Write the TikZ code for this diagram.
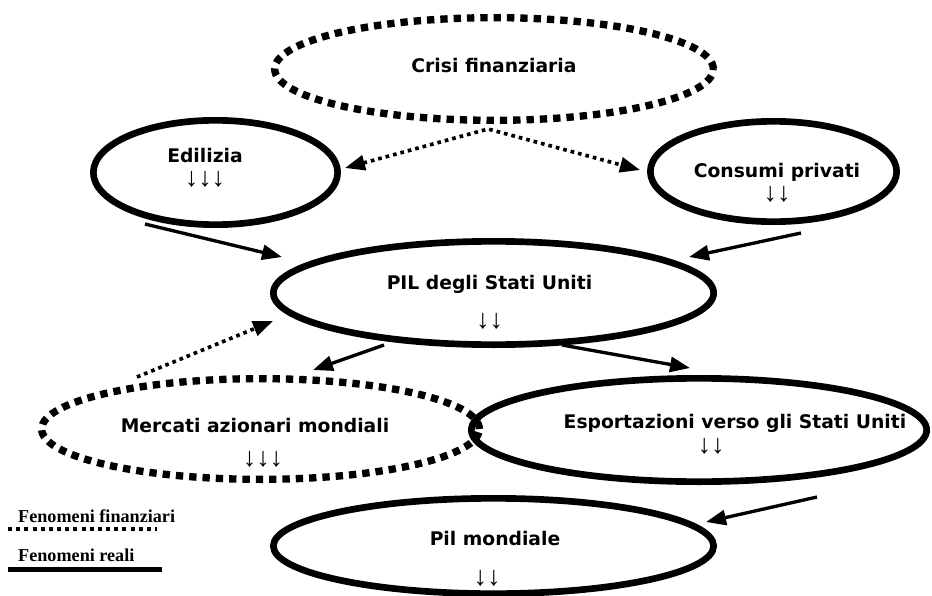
\documentclass[tikz,border=0pt]{standalone}
\usepackage{fontspec}
\setmainfont{DejaVu Sans}
\newfontfamily\legendfont{Liberation Serif}
\newfontfamily\trendfont{Liberation Sans}
\usepackage{tikz}
\usetikzlibrary{arrows.meta,shapes.geometric}

\begin{document}
\begin{tikzpicture}[x=0.3mm, y=-0.3mm, draw=black]
        \tikzstyle{realell}=[ellipse,draw=black,line width=2mm,inner sep=0pt,outer sep=0pt]
        \tikzstyle{finell}=[ellipse,draw=black,line width=2.2mm,dash pattern=on 2.2mm off 1.8mm,inner sep=0pt,outer sep=0pt]
        \tikzstyle{reallink}=[-{Triangle[length=6mm,width=4.5mm]}, line width=1mm]
        \tikzstyle{finlink}=[-{Triangle[length=6mm,width=4.5mm]}, line width=1.1mm, dash pattern=on 1.1mm off 1.2mm]
        \tikzstyle{title}=[font=\bfseries\fontsize{16}{19}\selectfont,inner sep=0pt,anchor=base]
        \tikzstyle{trend}=[font=\trendfont\bfseries\fontsize{23}{27}\selectfont,inner sep=0pt]
        \tikzstyle{legend}=[font=\legendfont\bfseries\fontsize{15.5}{18}\selectfont,inner sep=0pt,anchor=base west]

        \useasboundingbox (0,0) rectangle (932,596);

        % Draw the ellipses
        \node[finell, minimum width=131.6mm, minimum height=30.8mm] (crisi) at (494,69) {};
        \node[realell, minimum width=73.3mm, minimum height=31.3mm] (edil) at (215.5,172.5) {};
        \node[realell, minimum width=73.9mm, minimum height=30.1mm] (cons) at (773.5,171.5) {};
        \node[realell, minimum width=132.1mm, minimum height=31mm] (pil) at (493.5,293) {};
        \node[finell, minimum width=131.3mm, minimum height=30.2mm] (merc) at (260.5,429) {};
        \node[realell, minimum width=136.6mm, minimum height=31mm] (esp) at (699,430) {};
        \node[realell, minimum width=132.1mm, minimum height=28.6mm] (pilm) at (493.5,546) {};

        % Draw the texts
        \node[title] (crisi-t) at (494,73) {Crisi finanziaria};
        \node[title] (edil-t) at (205,162) {Edilizia};
        \node[title] (cons-t) at (777,177) {Consumi privati};
        \node[title] (pil-t) at (489.5,289) {PIL degli Stati Uniti};
        \node[title] (merc-t) at (255,432) {Mercati azionari mondiali};
        \node[title] (esp-t) at (735,428) {Esportazioni verso gli Stati Uniti};
        \node[title] (pilm-t) at (495,545) {Pil mondiale};

        % Draw the trends
        \node[trend] (edil-a) at (205,179) {↓↓↓};
        \node[trend] (cons-a) at (777,194) {↓↓};
        \node[trend] (pil-a) at (489.5,321) {↓↓};
        \node[trend] (merc-a) at (263,459) {↓↓↓};
        \node[trend] (esp-a) at (711,446) {↓↓};
        \node[trend] (pilm-a) at (487,578) {↓↓};

        % Financial links
        \draw[finlink, {Triangle[length=6mm,width=4.5mm]}-{Triangle[length=6mm,width=4.5mm]}]
            ([shift={(129.5,-4.5)}]edil.center) -- ([shift={(-6,60)}]crisi.center) -- ([shift={(-133.5,-1.5)}]cons.center);
        \draw[finlink] ([shift={(-123.5,-52)}]merc.center) -- ([shift={(-220.5,28)}]pil.center);

        % Real links
        \foreach \src/\sx/\sy/\dst/\dx/\dy in {edil/-70.5/51.5/pil/-211.5/-36, cons/27.5/61.5/pil/195.5/-36,
                pil/-109.5/52/merc/52.5/-59, pil/68.5/52/esp/-9/-62, esp/118/67/pilm/212.5/-24}
            \draw[reallink] ([shift={(\sx,\sy)}]\src.center) -- ([shift={(\dx,\dy)}]\dst.center);

        % Draw the legend
        \node[legend] (lfin) at (18,522) {Fenomeni finanziari};
        \node[legend] (lreal) at (18,561) {Fenomeni reali};
        \coordinate (lfin-a) at (8,529);
        \coordinate (lfin-b) at (157,529);
        \coordinate (lreal-a) at (8,569.5);
        \coordinate (lreal-b) at (162,569.5);
        \draw[line width=1.2mm, dash pattern=on 1.2mm off 1.25mm] (lfin-a) -- (lfin-b);
        \draw[line width=1.3mm] (lreal-a) -- (lreal-b);
    \end{tikzpicture}
\end{document}
